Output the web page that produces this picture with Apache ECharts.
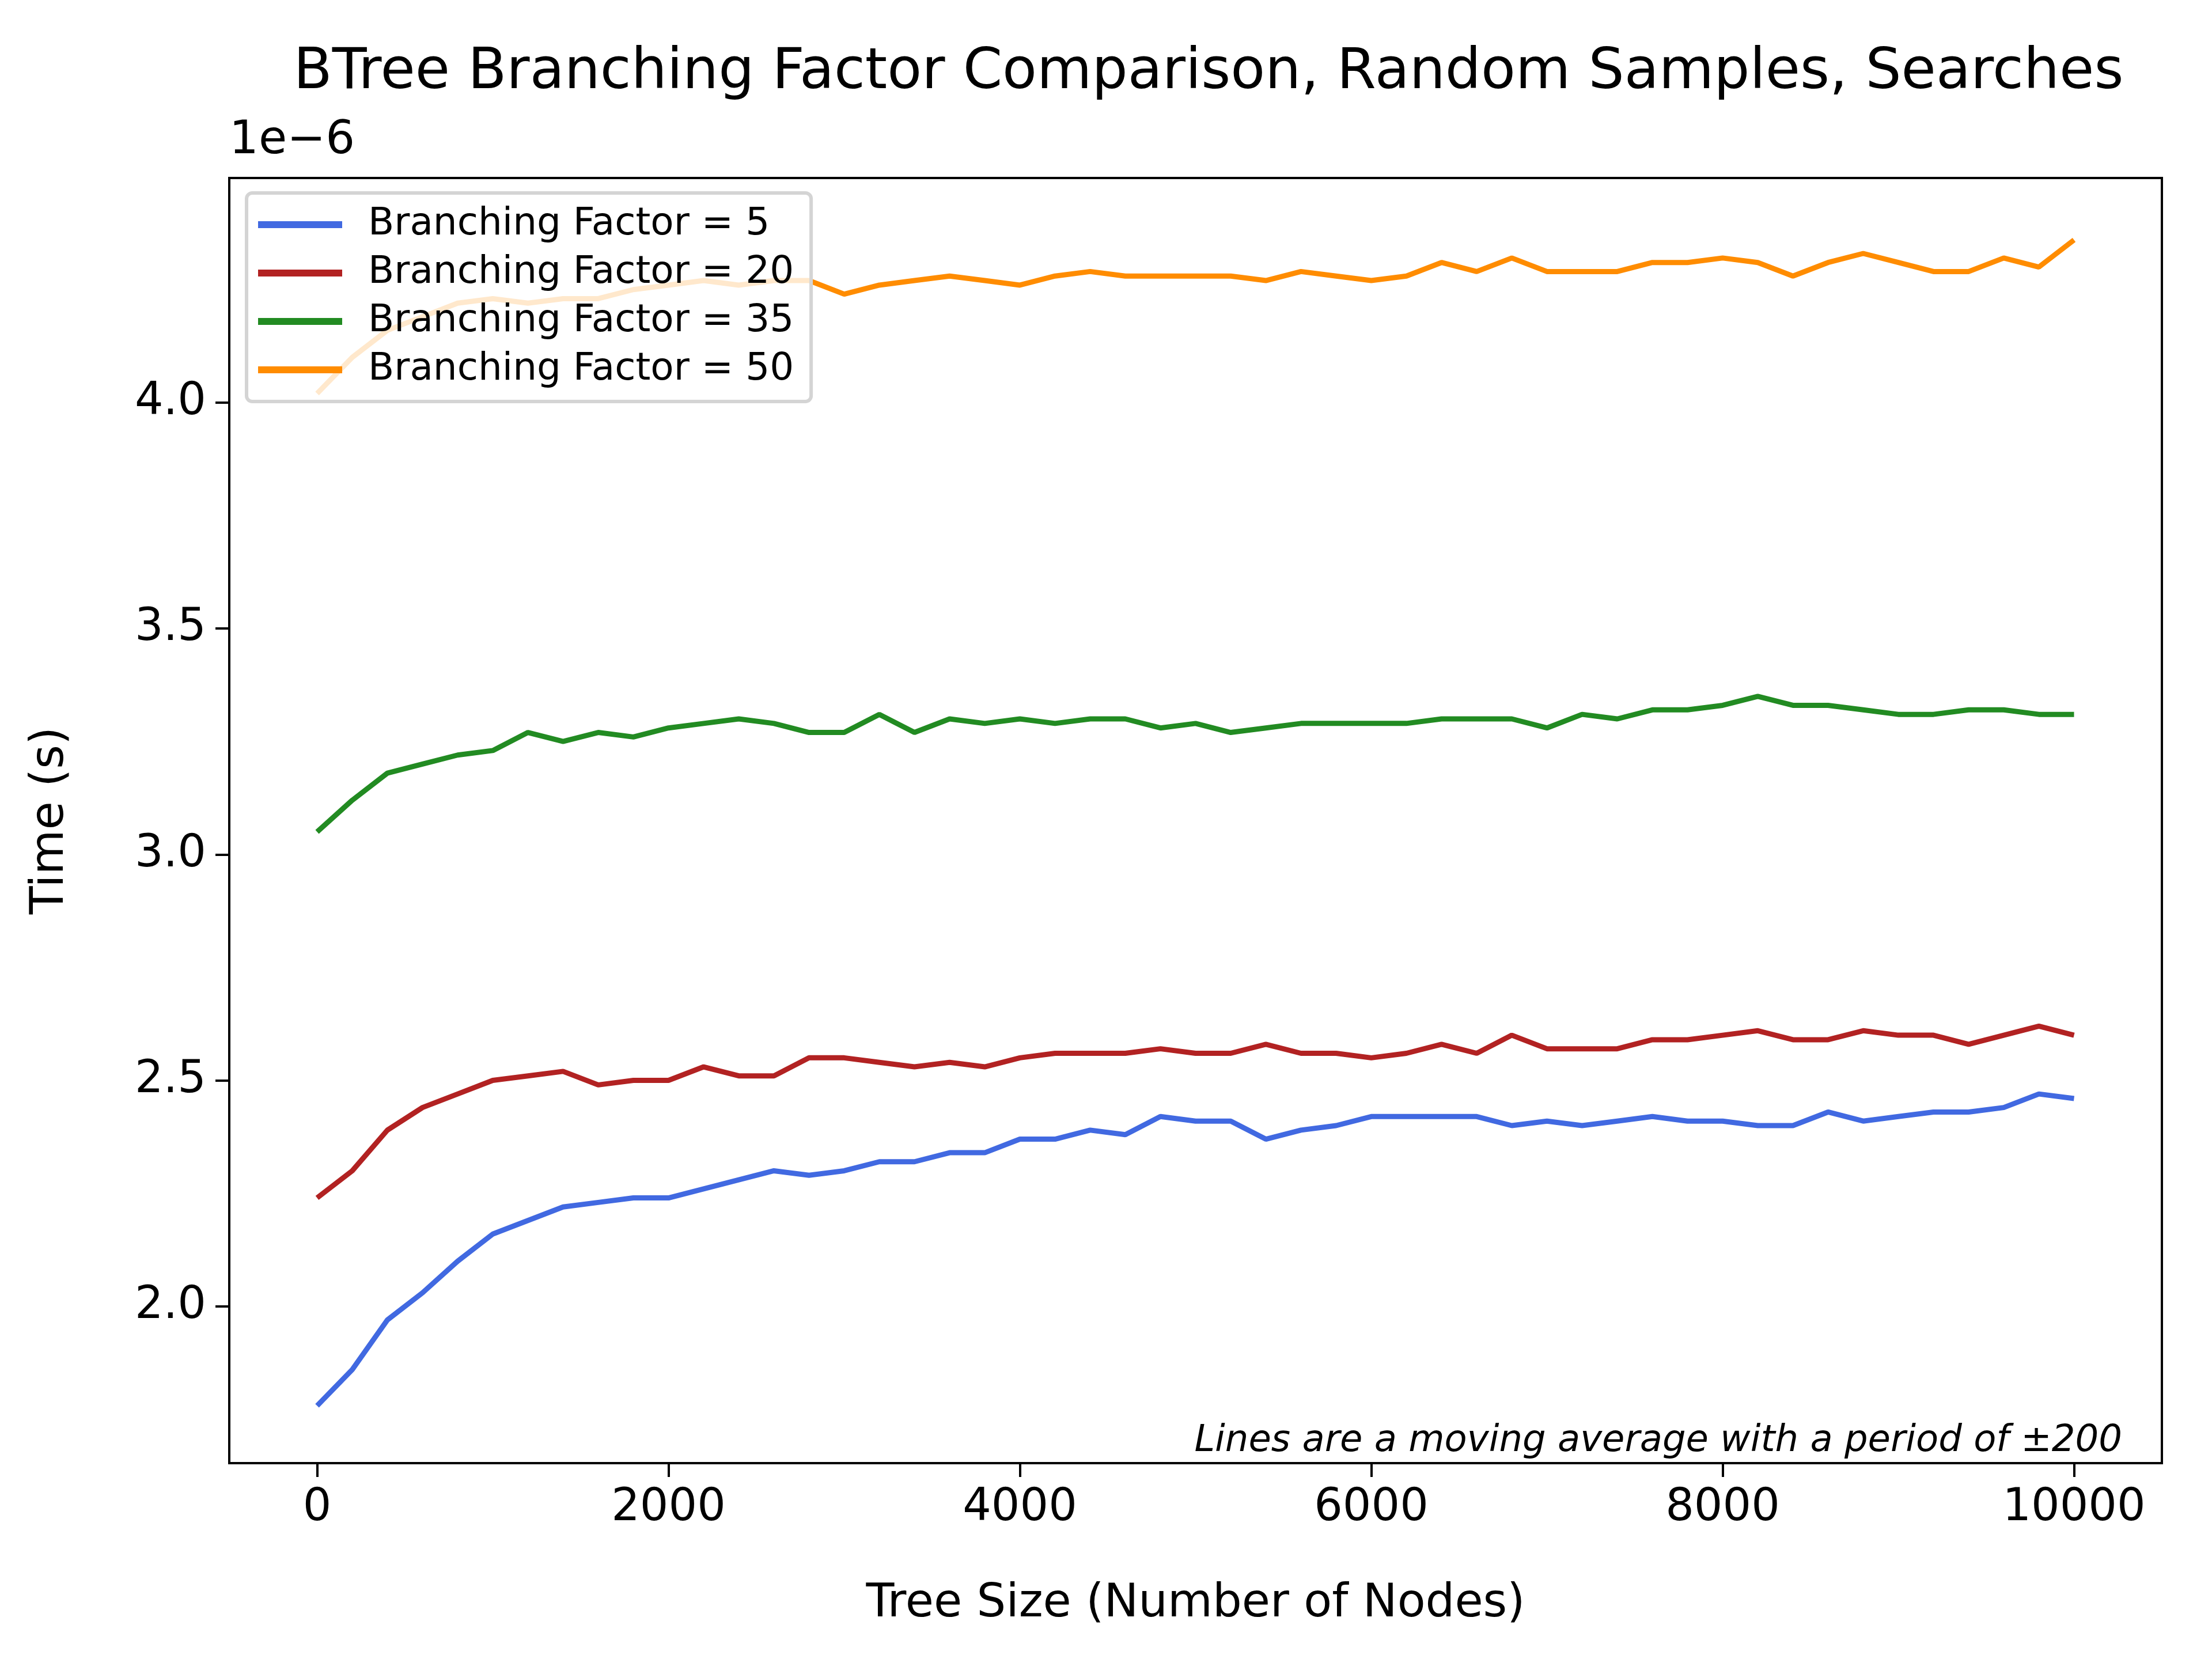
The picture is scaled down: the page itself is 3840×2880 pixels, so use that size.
<!DOCTYPE html>
<html lang="en">
<head>
<meta charset="UTF-8">
<title>BTree Branching Factor Comparison</title>
<script src="https://cdn.jsdelivr.net/npm/echarts@6/dist/echarts.min.js"></script>
<style>html,body{margin:0;padding:0;background:#fff}</style>
</head>
<body>
<div id="main" style="width:3840px;height:2880px;"></div>
<script>
// tree sizes (every 200 nodes)
var sizes = [];
for (var s = 0; s <= 10000; s += 200) sizes.push(s);

// times in units of 1e-6 s
var bf5 = [1.78,1.86,1.97,2.03,2.10,2.16,2.19,2.22,2.23,2.24,2.24,2.26,2.28,2.30,2.29,2.30,2.32,2.32,2.34,2.34,2.37,2.37,2.39,2.38,2.42,2.41,2.41,2.37,2.39,2.40,2.42,2.42,2.42,2.42,2.40,2.41,2.40,2.41,2.42,2.41,2.41,2.40,2.40,2.43,2.41,2.42,2.43,2.43,2.44,2.47,2.46];
var bf20 = [2.24,2.30,2.39,2.44,2.47,2.50,2.51,2.52,2.49,2.50,2.50,2.53,2.51,2.51,2.55,2.55,2.54,2.53,2.54,2.53,2.55,2.56,2.56,2.56,2.57,2.56,2.56,2.58,2.56,2.56,2.55,2.56,2.58,2.56,2.60,2.57,2.57,2.57,2.59,2.59,2.60,2.61,2.59,2.59,2.61,2.60,2.60,2.58,2.60,2.62,2.60];
var bf35 = [3.05,3.12,3.18,3.20,3.22,3.23,3.27,3.25,3.27,3.26,3.28,3.29,3.30,3.29,3.27,3.27,3.31,3.27,3.30,3.29,3.30,3.29,3.30,3.30,3.28,3.29,3.27,3.28,3.29,3.29,3.29,3.29,3.30,3.30,3.30,3.28,3.31,3.30,3.32,3.32,3.33,3.35,3.33,3.33,3.32,3.31,3.31,3.32,3.32,3.31,3.31];
var bf50 = [4.02,4.10,4.16,4.19,4.22,4.23,4.22,4.23,4.23,4.25,4.26,4.27,4.26,4.27,4.27,4.24,4.26,4.27,4.28,4.27,4.26,4.28,4.29,4.28,4.28,4.28,4.28,4.27,4.29,4.28,4.27,4.28,4.31,4.29,4.32,4.29,4.29,4.29,4.31,4.31,4.32,4.31,4.28,4.31,4.33,4.31,4.29,4.29,4.32,4.30,4.36];

var xTicks = [0,2000,4000,6000,8000,10000];
var yTicks = [2.0,2.5,3.0,3.5,4.0];

var names = ['Branching Factor = 5','Branching Factor = 20','Branching Factor = 35','Branching Factor = 50'];
var colors = ['#4169e1','#b22222','#228b22','#ff8c00'];
var values = [bf5, bf20, bf35, bf50];

function pairs(v) {
    var out = [];
    for (var i = 0; i < sizes.length; i++) out.push([sizes[i], v[i]]);
    return out;
}

var series = [];
for (var k = 0; k < names.length; k++) {
    series.push({
        name: names[k], type: 'line', data: pairs(values[k]),
        showSymbol: false, symbol: 'none',
        lineStyle: {color: colors[k], width: 9}, itemStyle: {color: colors[k]}
    });
}

var font = 'DejaVu Sans';
var myChart = echarts.init(document.getElementById('main'));
myChart.setOption({
    animation: false,
    backgroundColor: '#fff',
    title: {
        text: 'BTree Branching Factor Comparison, Random Samples, Searches',
        left: 2093, top: 74, textAlign: 'center',
        textStyle: {fontFamily: font, fontSize: 98, fontWeight: 'normal', color: '#000'}
    },
    legend: {
        left: 428, top: 335, orient: 'vertical', itemGap: 18,
        itemWidth: 146, itemHeight: 12, padding: [22, 30, 22, 20],
        backgroundColor: 'rgba(255,255,255,0.8)', borderColor: '#d4d4d4', borderWidth: 6, borderRadius: 10,
        icon: 'rect',
        textStyle: {fontFamily: font, fontSize: 66, color: '#000', padding: [0,0,0,40]},
        data: names
    },
    grid: {left: 398, right: 87, top: 309, bottom: 340, show: true, borderColor: '#000', borderWidth: 4, backgroundColor: 'transparent'},
    xAxis: {
        type: 'value', min: -500, max: 10500,
        name: 'Tree Size (Number of Nodes)', nameLocation: 'middle', nameGap: 205,
        nameTextStyle: {fontFamily: font, fontSize: 80, color: '#000'},
        axisLine: {onZero: false, lineStyle: {color: '#000', width: 4}},
        axisTick: {length: 24, lineStyle: {color: '#000', width: 4}, customValues: xTicks},
        axisLabel: {fontFamily: font, fontSize: 78, color: '#000', margin: 40, customValues: xTicks,
            formatter: function (v) { return String(v); }},
        splitLine: {show: false}
    },
    yAxis: {
        type: 'value', min: 1.653, max: 4.497,
        name: 'Time (s)', nameLocation: 'middle', nameGap: 270, nameRotate: 90,
        nameTextStyle: {fontFamily: font, fontSize: 80, color: '#000'},
        axisLine: {onZero: false, lineStyle: {color: '#000', width: 4}},
        axisTick: {length: 24, lineStyle: {color: '#000', width: 4}, customValues: yTicks},
        axisLabel: {fontFamily: font, fontSize: 78, color: '#000', margin: 40, customValues: yTicks,
            formatter: function (v) { return v.toFixed(1); }},
        splitLine: {show: false}
    },
    graphic: [
        {type: 'text', left: 398, top: 205, style: {text: '1e\u22126', fontFamily: font, fontSize: 80, fill: '#000'}},
        {type: 'text', right: 156, top: 2470, style: {text: 'Lines are a moving average with a period of \u00b1200', fontFamily: font, fontSize: 64, fontStyle: 'italic', fill: '#000'}}
    ],
    series: series
});
</script>
</body>
</html>
